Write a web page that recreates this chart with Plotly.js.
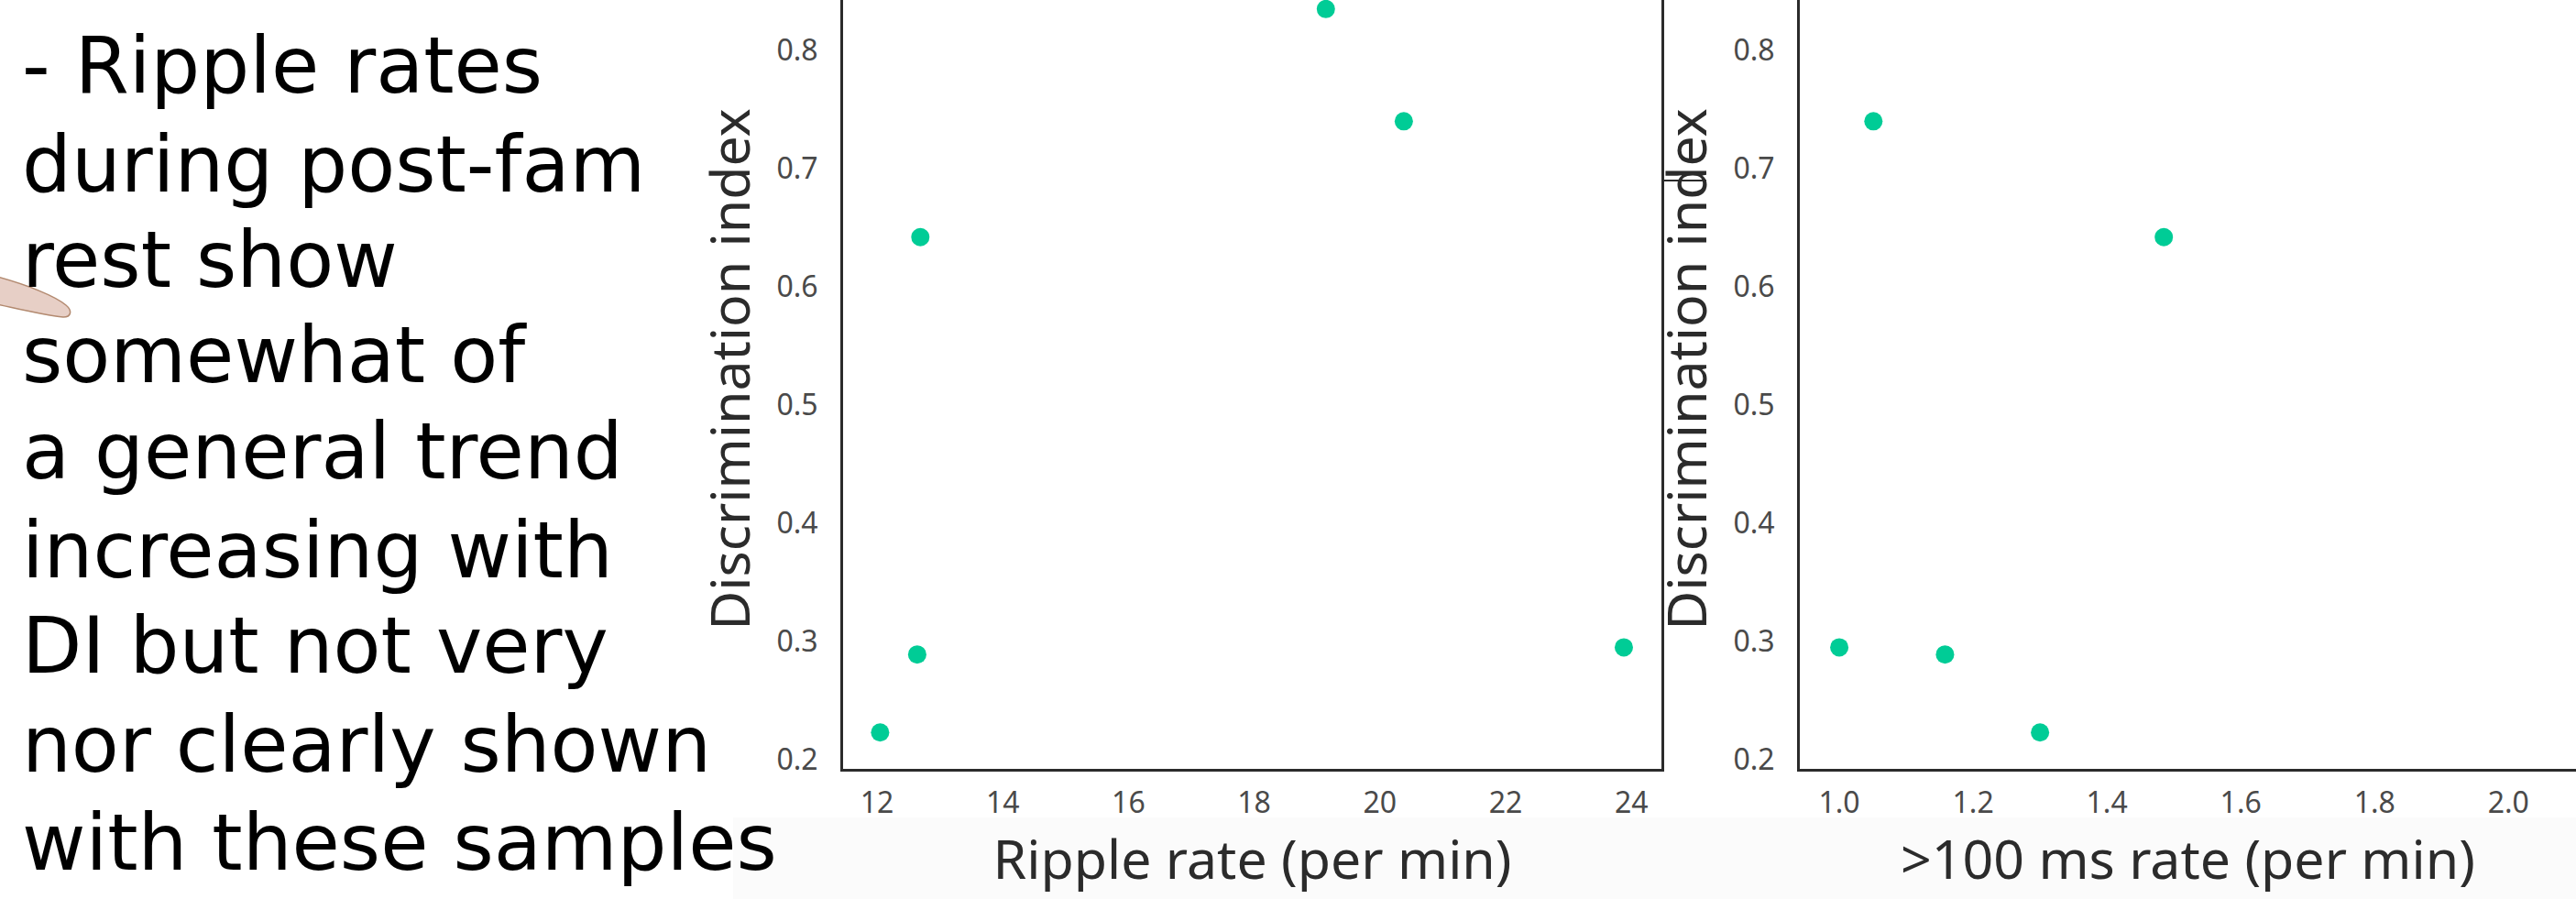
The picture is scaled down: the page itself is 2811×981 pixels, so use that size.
<!DOCTYPE html>
<html>
<head>
<meta charset="utf-8">
<script src="https://cdn.plot.ly/plotly-3.0.1.min.js"></script>
<style>
  html, body { margin: 0; padding: 0; background: #ffffff; overflow: hidden; }
  #chart { position: absolute; left: 0; top: -33px; width: 2811px; height: 1014px; }
</style>
</head>
<body>
<div id="chart"></div>
<script>
// ---- data ----
const rippleRate   = [12.05, 12.64, 12.69, 19.14, 20.38, 23.88];   // Ripple rate (per min)
const longRate     = [1.30, 1.158, 1.485, 2.11, 1.051, 1.00];        // >100 ms rate (per min)
const discrimIndex = [0.223, 0.289, 0.642, 0.835, 0.740, 0.295];     // Discrimination index
const rippleTicks  = [12, 14, 16, 18, 20, 22, 24];
const longTicks    = [1.0, 1.2, 1.4, 1.6, 1.8, 2.0];
const diTicks      = [0.2, 0.3, 0.4, 0.5, 0.6, 0.7, 0.8];
const noteLines = [
  "- Ripple rates",
  "during post-fam",
  "rest show",
  "somewhat of",
  "a general trend",
  "increasing with",
  "DI but not very",
  "nor clearly shown",
  "with these samples"
];

// ---- page geometry helpers (pixel -> paper) ----
const W = 2811, H = 1014, OFF = 33;
const px = x => x / W;
const py = y => 1 - (y + OFF) / H;

const FONT = "Noto Sans, Open Sans, DejaVu Sans, sans-serif";
const NOTE_FONT = "DejaVu Sans, Noto Sans, sans-serif";
const markerColor = "#00CC96";

const traces = [
  { type: "scatter", mode: "markers", x: rippleRate, y: discrimIndex, xaxis: "x", yaxis: "y",
    marker: { color: markerColor, size: 20 }, cliponaxis: false, showlegend: false, hoverinfo: "x+y" },
  { type: "scatter", mode: "markers", x: longRate, y: discrimIndex, xaxis: "x2", yaxis: "y2",
    marker: { color: markerColor, size: 20 }, cliponaxis: false, showlegend: false, hoverinfo: "x+y" }
];

const axisLine = { showline: true, linecolor: "#2b2b2b", linewidth: 3, showgrid: false, zeroline: false,
  ticks: "outside", tickcolor: "rgba(0,0,0,0)",
  tickfont: { family: FONT, size: 32, color: "#4a4a4a" } };
const titleFont = { family: FONT, size: 59, color: "#2b2b2b" };

const yDomain = [py(839), 1];

// note text lines as annotations
const noteSize = 85;
const baselines = [102, 210, 314, 418, 523, 631, 735, 843, 950];
const annotations = noteLines.map((t, i) => ({
  text: t, xref: "paper", yref: "paper", x: px(22), y: py(baselines[i] + 0.236 * noteSize + 1),
  xanchor: "left", yanchor: "bottom", showarrow: false,
  font: { family: NOTE_FONT, size: noteSize, color: "#000000" }
}));

function pathFrom(cmds) {
  return cmds.map(c => c[0] + " " + c.slice(1).map((v, k) => (k % 2 === 0 ? px(v) : py(v)).toFixed(5)).join(" ")).join(" ") + " Z";
}

const shapes = [
  // faint grey band below the pasted charts
  { type: "rect", xref: "paper", yref: "paper", x0: px(800), x1: px(2811), y0: py(981), y1: py(892),
    fillcolor: "#fbfbfb", line: { width: 0 }, layer: "below" },
  // pointer tab at the left edge
  { type: "path", xref: "paper", yref: "paper", layer: "above",
    path: pathFrom([["M", -3, 302], ["C", 30, 311, 60, 323, 72, 333], ["C", 79, 339, 78, 346, 69, 346], ["C", 48, 344, 20, 337, -3, 332]]),
    fillcolor: "#e7cfc6", line: { color: "#b38a70", width: 1.5 } },
  // small line fragment next to the second y title
  { type: "line", xref: "paper", yref: "paper", x0: px(1813), x1: px(1862), y0: py(197), y1: py(197),
    line: { color: "#2b2b2b", width: 2 } }
];

const layout = {
  width: W, height: H,
  margin: { l: 0, r: 0, t: 0, b: 0, pad: 0 },
  paper_bgcolor: "rgba(0,0,0,0)", plot_bgcolor: "rgba(0,0,0,0)",
  showlegend: false,
  xaxis: Object.assign({}, axisLine, {
    domain: [px(920), px(1813)], range: [11.461, 24.478], anchor: "y",
    tickmode: "array", tickvals: rippleTicks, ticklen: 7,
    title: { text: "Ripple rate (per min)", font: titleFont, standoff: 16 }
  }),
  yaxis: Object.assign({}, axisLine, {
    domain: yDomain, range: [0.1922, 0.8682], anchor: "x", mirror: true,
    tickmode: "array", tickvals: diTicks, tickformat: ".1f", ticklen: 18,
    title: { text: "Discrimination index", font: titleFont, standoff: 10 }
  }),
  xaxis2: Object.assign({}, axisLine, {
    domain: [px(1964), 1], range: [0.941, 2.101], anchor: "y2",
    tickmode: "array", tickvals: longTicks, tickformat: ".1f", ticklen: 7,
    title: { text: ">100 ms rate (per min)", font: titleFont, standoff: 16 }
  }),
  yaxis2: Object.assign({}, axisLine, {
    domain: yDomain, range: [0.1922, 0.8682], anchor: "x2",
    tickmode: "array", tickvals: diTicks, tickformat: ".1f", ticklen: 18,
    title: { text: "Discrimination index", font: titleFont, standoff: 10 }
  }),
  annotations: annotations,
  shapes: shapes
};

Plotly.newPlot("chart", traces, layout, { displayModeBar: false, staticPlot: true });
</script>
</body>
</html>
